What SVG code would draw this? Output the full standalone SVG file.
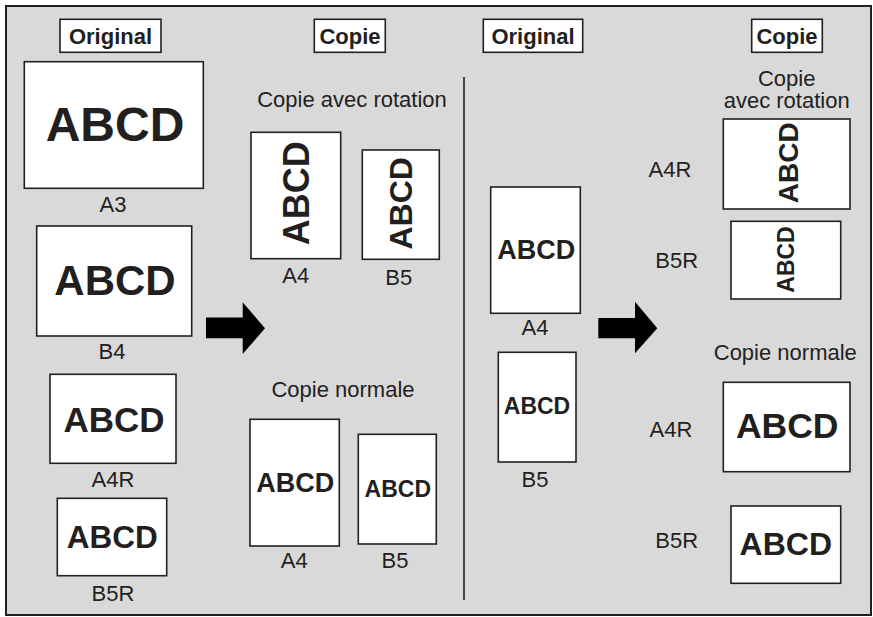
<svg xmlns="http://www.w3.org/2000/svg" width="873" height="617" viewBox="0 0 873 617">
<style>
.frame{fill:#d9d9d9;stroke:#231f20;stroke-width:2}
.page{fill:#ffffff;stroke:#231f20;stroke-width:1.6}
.hdr{fill:#ffffff;stroke:#231f20;stroke-width:1.6}
.big{font-family:"Liberation Sans",Arial,sans-serif;font-weight:bold;fill:#231f20;text-anchor:middle}
.lbl{font-family:"Liberation Sans",Arial,sans-serif;font-size:22px;fill:#231f20;text-anchor:middle}
.arrow{fill:#000000}
.div{stroke:#231f20;stroke-width:1.6}
</style>
<rect class="frame" x="6" y="6" width="865" height="609"/>
<line class="div" x1="464" y1="77" x2="464" y2="600"/>

<g id="hdr-original-left"><rect class="hdr" x="60" y="19.3" width="101" height="33"/><text class="big" x="110.5" y="44" font-size="22">Original</text></g>
<g id="hdr-copie-left"><rect class="hdr" x="314.3" y="19.3" width="71" height="33"/><text class="big" x="350" y="44" font-size="22">Copie</text></g>
<g id="hdr-original-right"><rect class="hdr" x="483.3" y="19.3" width="99.4" height="33"/><text class="big" x="533" y="44" font-size="22">Original</text></g>
<g id="hdr-copie-right"><rect class="hdr" x="751.7" y="19.3" width="70.6" height="33"/><text class="big" x="787" y="44" font-size="22">Copie</text></g>

<g id="orig-a3"><rect class="page" x="24.3" y="61.7" width="179" height="126.6"/><text class="big" x="115" y="141" font-size="48">ABCD</text><text class="lbl" x="113" y="212">A3</text></g>
<g id="orig-b4"><rect class="page" x="36.7" y="226" width="155" height="110"/><text class="big" x="115" y="295" font-size="42">ABCD</text><text class="lbl" x="112" y="359">B4</text></g>
<g id="orig-a4r"><rect class="page" x="50" y="374.3" width="126" height="89"/><text class="big" x="114" y="431.7" font-size="35">ABCD</text><text class="lbl" x="113" y="487">A4R</text></g>
<g id="orig-b5r"><rect class="page" x="57.3" y="498.3" width="109.4" height="77.4"/><text class="big" x="112.2" y="547.7" font-size="31.5">ABCD</text><text class="lbl" x="113" y="600.7">B5R</text></g>

<g id="title-rot-left"><text class="lbl" x="352" y="106.7">Copie avec rotation</text></g>
<g id="copy-rot-a4"><rect class="page" x="251" y="132.3" width="89.7" height="126.4"/><text class="big" font-size="36" transform="translate(309,193.3) rotate(-90)">ABCD</text><text class="lbl" x="295.8" y="282.7">A4</text></g>
<g id="copy-rot-b5"><rect class="page" x="362.3" y="150" width="77" height="109.3"/><text class="big" font-size="32" transform="translate(411.7,203.3) rotate(-90)">ABCD</text><text class="lbl" x="398.7" y="285">B5</text></g>

<g id="title-norm-left"><text class="lbl" x="343" y="397.3">Copie normale</text></g>
<g id="copy-norm-a4"><rect class="page" x="250" y="419.3" width="89.3" height="126.7"/><text class="big" x="295.3" y="492.3" font-size="27">ABCD</text><text class="lbl" x="294.3" y="568.3">A4</text></g>
<g id="copy-norm-b5"><rect class="page" x="358.3" y="434.3" width="78" height="109.7"/><text class="big" x="397.8" y="496.7" font-size="23">ABCD</text><text class="lbl" x="395" y="568.3">B5</text></g>

<g id="orig-a4-right"><rect class="page" x="490.7" y="187" width="89.6" height="126.3"/><text class="big" x="536.3" y="259" font-size="27">ABCD</text><text class="lbl" x="535" y="335">A4</text></g>
<g id="orig-b5-right"><rect class="page" x="498.3" y="352.3" width="77.7" height="109.7"/><text class="big" x="537" y="414.3" font-size="23">ABCD</text><text class="lbl" x="535" y="486.7">B5</text></g>

<g id="title-rot-right"><text class="lbl" x="786.7" y="85.5">Copie</text><text class="lbl" x="786.7" y="107.5">avec rotation</text></g>
<g id="copy-rot-a4r"><rect class="page" x="723.3" y="119" width="126.7" height="90"/><text class="big" font-size="28" transform="translate(798.3,162.7) rotate(-90)">ABCD</text><text class="lbl" x="670" y="176.7">A4R</text></g>
<g id="copy-rot-b5r"><rect class="page" x="731" y="221.3" width="109.7" height="77.7"/><text class="big" font-size="23" transform="translate(794,259.5) rotate(-90)">ABCD</text><text class="lbl" x="676.7" y="268.3">B5R</text></g>

<g id="title-norm-right"><text class="lbl" x="785.3" y="360">Copie normale</text></g>
<g id="copy-norm-a4r"><rect class="page" x="723.3" y="382.3" width="126.7" height="89.4"/><text class="big" x="787.2" y="438.3" font-size="35.5">ABCD</text><text class="lbl" x="671" y="436.7">A4R</text></g>
<g id="copy-norm-b5r"><rect class="page" x="731" y="506" width="109.7" height="77.3"/><text class="big" x="785.8" y="555" font-size="32">ABCD</text><text class="lbl" x="676.7" y="548.3">B5R</text></g>

<g id="connectors">
<polygon class="arrow" points="206,317.5 242.7,317.5 242.7,302.3 265,328.3 242.7,354 242.7,338.3 206,338.3"/>
<polygon class="arrow" points="598.3,318 635,318 635,301.7 657.3,328.3 635,353.3 635,338.3 598.3,338.3"/>
</g>
</svg>
